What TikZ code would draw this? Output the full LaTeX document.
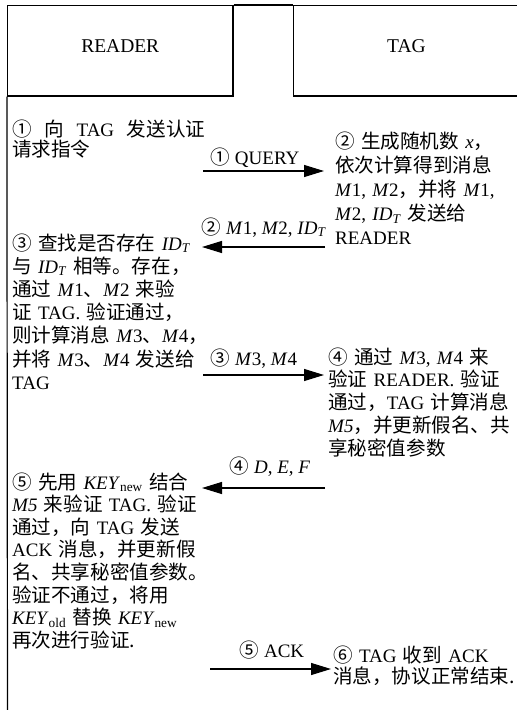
\documentclass[tikz,border=0pt]{standalone}
\usepackage{fontspec}
\setmainfont{Liberation Serif}
\newfontfamily\cjk[Scale=1.03]{Noto Sans CJK SC}
\usetikzlibrary{arrows.meta}
\newcommand\zh[1]{{\cjk #1}}
\newcommand\Mi[1]{\textit{M}#1}
\newcommand\IDT{\textit{ID}\textsubscript{\textit{T}}}
\newcommand\KEYsub[1]{\textit{KEY}\textsubscript{#1}}
\begin{document}
\begin{tikzpicture}[x=1pt,y=-1pt,
  frame/.style={line width=1.2pt},
  hdr/.style={draw, line width=1.2pt, font=\fontsize{19.5}{23}\selectfont, inner sep=0, text depth=10pt},
  body/.style={inner sep=0, anchor=base west, text width=210pt, align=left},
  msg/.style={line width=1.2pt, -{Triangle[length=20pt,width=12pt]}},
  lbl/.style={inner sep=0, anchor=base, font=\fontsize{19}{22}\selectfont}]
\useasboundingbox (0,0) rectangle (517,710);
% headers
\node[hdr, minimum width=225.5pt, minimum height=90.5pt] (reader) at (120.25,50.75) {READER};
\node[hdr, minimum width=226pt, minimum height=90.5pt] (tag) at (406.5,50.75) {TAG};
\draw[frame] (reader.north east) -- (tag.north west);
\coordinate (lifeend) at (7.5,712);
\draw[frame] (reader.south west) -- (lifeend);
% messages
\coordinate (m1s) at (203,171); \coordinate (m1e) at (324,171);
\draw[msg] (m1s) -- (m1e);
\node[lbl] (m1l) at (255,164) {\zh{①} QUERY};
\coordinate (m2s) at (325,247); \coordinate (m2e) at (202,247);
\draw[msg] (m2s) -- (m2e);
\node[lbl] (m2l) at (264,234) {\zh{②} \Mi1, \Mi2, \IDT};
\coordinate (m3s) at (203,375); \coordinate (m3e) at (324,375);
\draw[msg] (m3s) -- (m3e);
\node[lbl] (m3l) at (254,365) {\zh{③} \Mi3, \Mi4};
\coordinate (m4s) at (325,488); \coordinate (m4e) at (202,488);
\draw[msg] (m4s) -- (m4e);
\node[lbl] (m4l) at (270,473) {\zh{④} \textit{D}, \textit{E}, \textit{F}};
\coordinate (m5s) at (210,669); \coordinate (m5e) at (331,669);
\draw[msg] (m5s) -- (m5e);
\node[lbl] (m5l) at (272,657) {\zh{⑤} ACK};
% text blocks
\node[body, font=\fontsize{19}{20}\selectfont] (t1) at (12,136)
  {\zh{①}\ \ \zh{向}\ \ TAG\ \ \zh{发送认证}\\ \zh{请求指令}};
\node[body, font=\fontsize{19}{24.2}\selectfont] (t2) at (335,148)
  {\zh{② 生成随机数} \textit{x}\zh{，}\\
   \zh{依次计算得到消息}\\
   \Mi1, \Mi2\zh{，并将} \Mi1,\\
   \Mi2, \IDT{} \zh{发送给}\\
   READER};
\node[body, font=\fontsize{19}{23.2}\selectfont] (t3) at (12,250)
  {\zh{③ 查找是否存在} \IDT\\
   \zh{与} \IDT{} \zh{相等。存在，}\\
   \zh{通过} \Mi1\zh{、}\Mi2 \zh{来验}\\
   \zh{证} TAG. \zh{验证通过，}\\
   \zh{则计算消息} \Mi3\zh{、}\Mi4\zh{，}\\
   \zh{并将} \Mi3\zh{、}\Mi4 \zh{发送给}\\
   TAG};
\node[body, font=\fontsize{19}{22.75}\selectfont] (t4) at (328,364)
  {\zh{④ 通过} \Mi3, \Mi4 \zh{来}\\
   \zh{验证} READER. \zh{验证}\\
   \zh{通过，}TAG \zh{计算消息}\\
   \textit{M5}\zh{，并更新假名、共}\\
   \zh{享秘密值参数}};
\node[body, font=\fontsize{19}{22.6}\selectfont] (t5) at (12,489)
  {\zh{⑤ 先用} \KEYsub{new} \zh{结合}\\
   \textit{M5} \zh{来验证} TAG. \zh{验证}\\
   \zh{通过，向} TAG \zh{发送}\\
   ACK \zh{消息，并更新假}\\
   \zh{名、共享秘密值参数。}\\
   \zh{验证不通过，将用}\\
   \KEYsub{old} \zh{替换} \KEYsub{new}\\
   \zh{再次进行验证.}};
\node[body, font=\fontsize{19}{21}\selectfont] (t6) at (333,662)
  {\zh{⑥} TAG \zh{收到} ACK\\
   \zh{消息，协议正常结束.}};
\end{tikzpicture}
\end{document}
